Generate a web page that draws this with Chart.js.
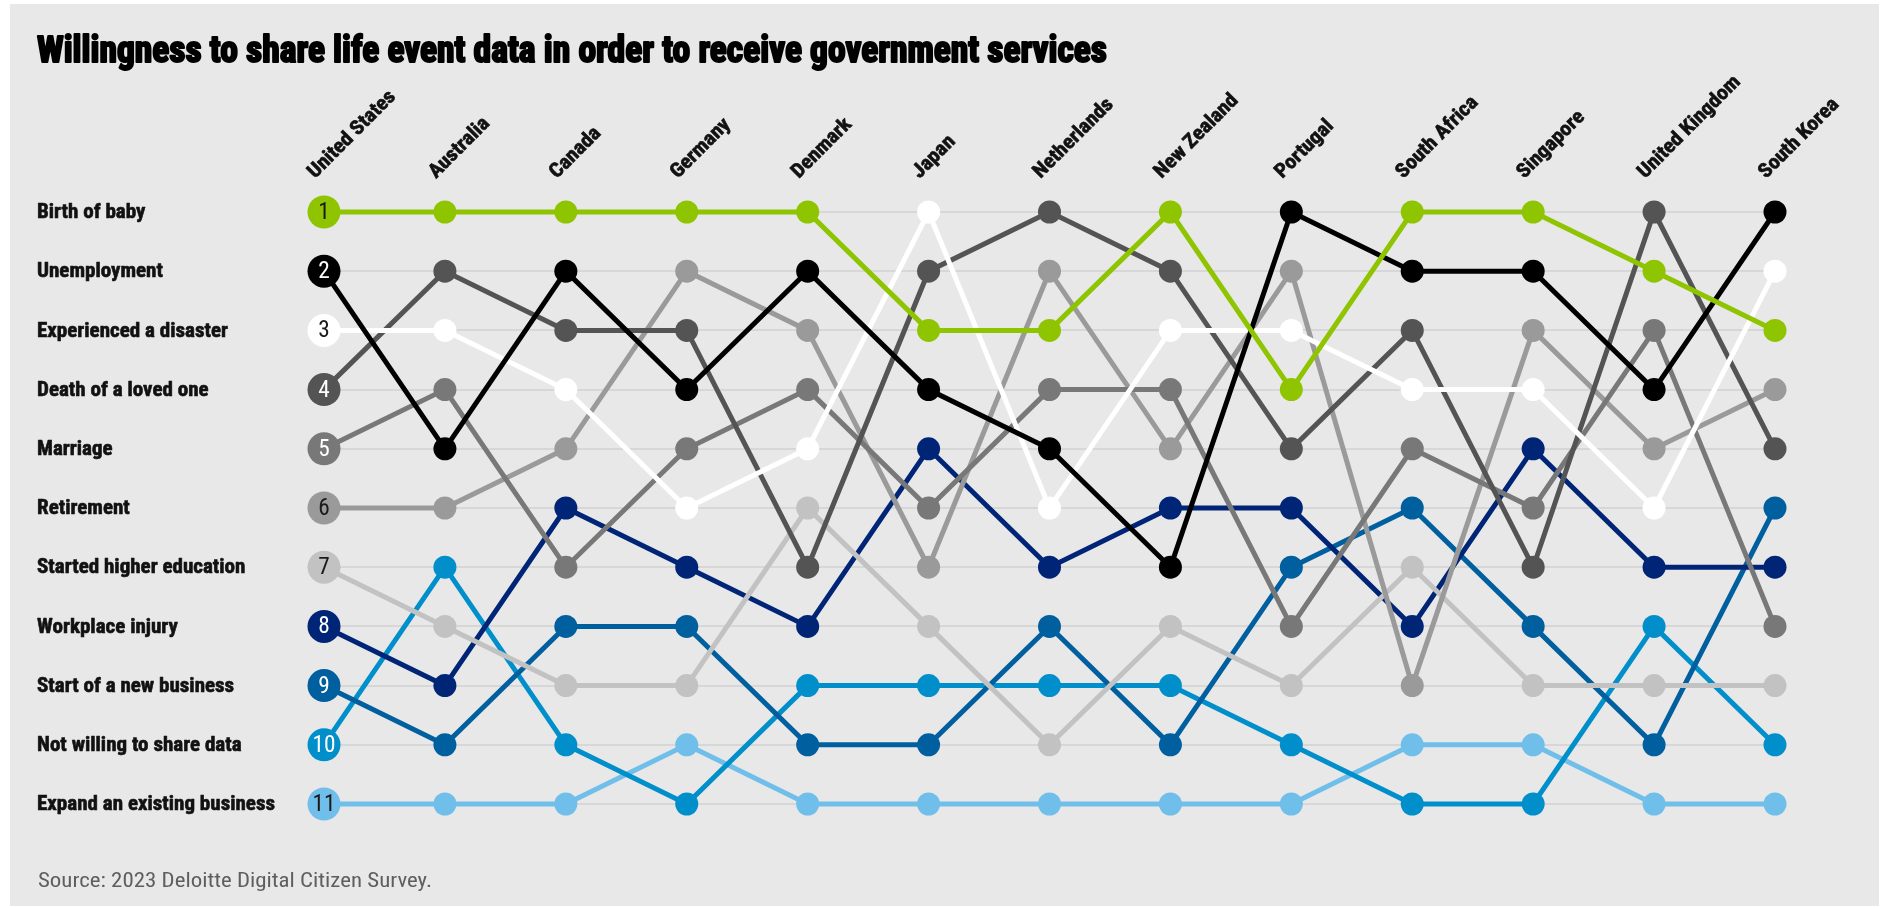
<!DOCTYPE html>
<html>
<head>
<meta charset="utf-8">
<title>Willingness to share life event data</title>
<script src="https://cdn.jsdelivr.net/npm/chart.js@4.4.1/dist/chart.umd.min.js"></script>
<style>
  html, body { margin: 0; padding: 0; background: #fff; }
  #wrap { position: relative; width: 1881px; height: 908px; }
</style>
</head>
<body>
<div id="wrap"><canvas id="bump"></canvas></div>
<script>
const countries = ['United States', 'Australia', 'Canada', 'Germany', 'Denmark', 'Japan',
  'Netherlands', 'New Zealand', 'Portugal', 'South Africa', 'Singapore', 'United Kingdom', 'South Korea'];

const events = ['Birth of baby', 'Unemployment', 'Experienced a disaster', 'Death of a loved one',
  'Marriage', 'Retirement', 'Started higher education', 'Workplace injury',
  'Start of a new business', 'Not willing to share data', 'Expand an existing business'];

// rank of each life event in each country (1 = most willing)
const birthOfBaby      = [1, 1, 1, 1, 1, 3, 3, 1, 4, 1, 1, 2, 3];
const unemployment     = [2, 5, 2, 4, 2, 4, 5, 7, 1, 2, 2, 4, 1];
const disaster         = [3, 3, 4, 6, 5, 1, 6, 3, 3, 4, 4, 6, 2];
const deathOfLovedOne  = [4, 2, 3, 3, 7, 2, 1, 2, 5, 3, 7, 1, 5];
const marriage         = [5, 4, 7, 5, 4, 6, 4, 4, 8, 5, 6, 3, 8];
const retirement       = [6, 6, 5, 2, 3, 7, 2, 5, 2, 9, 3, 5, 4];
const higherEducation  = [7, 8, 9, 9, 6, 8, 10, 8, 9, 7, 9, 9, 9];
const workplaceInjury  = [8, 9, 6, 7, 8, 5, 7, 6, 6, 8, 5, 7, 7];
const newBusiness      = [9, 10, 8, 8, 10, 10, 8, 10, 7, 6, 8, 10, 6];
const notWilling       = [10, 7, 10, 11, 9, 9, 9, 9, 10, 11, 11, 8, 10];
const expandBusiness   = [11, 11, 11, 10, 11, 11, 11, 11, 11, 10, 10, 11, 11];

const ranks = [birthOfBaby, unemployment, disaster, deathOfLovedOne, marriage, retirement,
  higherEducation, workplaceInjury, newBusiness, notWilling, expandBusiness];

const rankTicks = [1, 2, 3, 4, 5, 6, 7, 8, 9, 10, 11];

const lineColors = ['#8fc400', '#000000', '#ffffff', '#545454', '#787878', '#9a9a9a',
  '#c2c2c2', '#002577', '#005f9f', '#008fcb', '#70bfea'];
const badgeText = ['#1a1a1a', '#ffffff', '#1a1a1a', '#ffffff', '#ffffff', '#1a1a1a',
  '#1a1a1a', '#ffffff', '#ffffff', '#ffffff', '#1a1a1a'];

const NARROW = '"Roboto Condensed", "Open Sans Condensed", "Liberation Sans Narrow", "DejaVu Sans Condensed", sans-serif';

const datasets = ranks.map((r, i) => ({
  label: events[i],
  data: r,
  borderColor: lineColors[i],
  backgroundColor: lineColors[i],
  borderWidth: 5,
  pointRadius: ctx => ctx.dataIndex === 0 ? 16.5 : 11.5,
  pointHoverRadius: ctx => ctx.dataIndex === 0 ? 16.5 : 11.5,
  pointBorderWidth: 0,
  tension: 0,
  clip: false
}));

// draw text squeezed horizontally so that `ref` would span `target` px
function squeeze(c, text, ref, target, heavy) {
  const k = target / c.measureText(ref).width;
  c.save();
  c.scale(k, 1);
  if (heavy) {
    c.lineWidth = heavy;
    c.lineJoin = 'round';
    c.strokeStyle = c.fillStyle;
    c.strokeText(text, 0, 0);
  }
  c.fillText(text, 0, 0);
  c.restore();
}

// panel, heading, source line, axis labels and the rank numbers in the first column
const decorations = {
  id: 'decorations',
  beforeDraw(chart) {
    const c = chart.ctx;
    c.save();
    c.fillStyle = '#e8e8e8';
    c.fillRect(10, 4, 1869, 902);
    c.restore();
  },
  afterDraw(chart) {
    const c = chart.ctx;
    const title = 'Willingness to share life event data in order to receive government services';
    c.save();
    c.font = 'bold 36px ' + NARROW;
    c.fillStyle = '#000';
    c.translate(37, 62);
    squeeze(c, title, title, 1070, 2);
    c.restore();

    c.save();
    const source = 'Source: 2023 Deloitte Digital Citizen Survey.';
    c.font = '20px ' + NARROW;
    c.fillStyle = '#5e5e5e';
    c.textBaseline = 'middle';
    c.translate(38, 882);
    squeeze(c, source, source, 394);
    c.restore();

    // event names along the left
    const ys = chart.scales.y;
    c.save();
    c.font = 'bold 21px ' + NARROW;
    c.fillStyle = '#111';
    c.textBaseline = 'middle';
    ys.ticks.forEach(t => {
      c.save();
      c.translate(37, ys.getPixelForValue(t.value) + 1);
      squeeze(c, events[t.value - 1], 'Expand an existing business', 238, 0.6);
      c.restore();
    });
    c.restore();

    // slanted country names across the top
    const xs = chart.scales.x;
    c.save();
    c.font = 'bold 20px ' + NARROW;
    c.fillStyle = '#111';
    c.textBaseline = 'alphabetic';
    countries.forEach((name, i) => {
      c.save();
      c.translate(xs.getPixelForTick(i) - 9, 179);
      c.rotate(-Math.PI / 4);
      squeeze(c, name, 'United Kingdom', 136, 0.6);
      c.restore();
    });
    c.restore();
  },
  afterDatasetsDraw(chart) {
    const c = chart.ctx;
    c.save();
    c.font = '24px ' + NARROW;
    c.textAlign = 'center';
    c.textBaseline = 'middle';
    chart.data.datasets.forEach((ds, i) => {
      const pt = chart.getDatasetMeta(i).data[0];
      c.save();
      c.translate(pt.x, pt.y + 1);
      c.fillStyle = badgeText[i];
      squeeze(c, String(ds.data[0]), '10', 23);
      c.restore();
    });
    c.restore();
  }
};

new Chart(document.getElementById('bump'), {
  type: 'line',
  data: { labels: countries, datasets },
  options: {
    responsive: true,
    maintainAspectRatio: false,
    animation: false,
    events: [],
    layout: { padding: { left: 36, right: 106, top: 0, bottom: 104 } },
    plugins: { legend: { display: false }, tooltip: { enabled: false } },
    scales: {
      x: {
        type: 'category',
        position: 'top',
        offset: false,
        grid: { display: false },
        border: { display: false },
        ticks: { display: false },
        afterFit(scale) { scale.height = 212; }
      },
      y: {
        type: 'linear',
        reverse: true,
        min: 1,
        max: 11,
        afterBuildTicks(scale) { scale.ticks = rankTicks.map(v => ({ value: v })); },
        grid: { color: '#d7d7d7', lineWidth: 2, drawTicks: false },
        border: { display: false },
        ticks: { display: false },
        afterFit(scale) { scale.width = 288; }
      }
    }
  },
  plugins: [decorations]
});
</script>
</body>
</html>
